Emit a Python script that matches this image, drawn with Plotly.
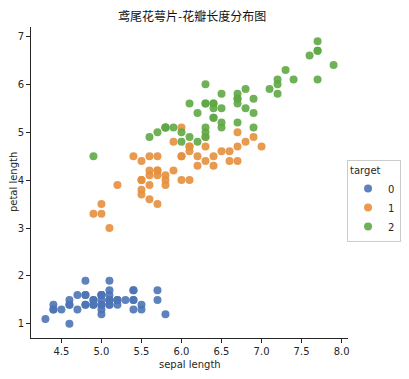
import plotly.graph_objects as go

# Iris data: sepal length and petal length per target class
sepal_0 = [5.1,4.9,4.7,4.6,5.0,5.4,4.6,5.0,4.4,4.9,5.4,4.8,4.8,4.3,5.8,5.7,5.4,5.1,5.7,5.1,
           5.4,5.1,4.6,5.1,4.8,5.0,5.0,5.2,5.2,4.7,4.8,5.4,5.2,5.5,4.9,5.0,5.5,4.9,4.4,5.1,
           5.0,4.5,4.4,5.0,5.1,4.8,5.1,4.6,5.3,5.0]
petal_0 = [1.4,1.4,1.3,1.5,1.4,1.7,1.4,1.5,1.4,1.5,1.5,1.6,1.4,1.1,1.2,1.5,1.3,1.4,1.7,1.5,
           1.7,1.5,1.0,1.7,1.9,1.6,1.6,1.5,1.4,1.6,1.6,1.5,1.5,1.4,1.5,1.2,1.3,1.4,1.3,1.5,
           1.3,1.3,1.3,1.6,1.9,1.4,1.6,1.4,1.5,1.4]
sepal_1 = [7.0,6.4,6.9,5.5,6.5,5.7,6.3,4.9,6.6,5.2,5.0,5.9,6.0,6.1,5.6,6.7,5.6,5.8,6.2,5.6,
           5.9,6.1,6.3,6.1,6.4,6.6,6.8,6.7,6.0,5.7,5.5,5.5,5.8,6.0,5.4,6.0,6.7,6.3,5.6,5.5,
           5.5,6.1,5.8,5.0,5.6,5.7,5.7,6.2,5.1,5.7]
petal_1 = [4.7,4.5,4.9,4.0,4.6,4.5,4.7,3.3,4.6,3.9,3.5,4.2,4.0,4.7,3.6,4.4,4.5,4.1,4.5,3.9,
           4.8,4.0,4.9,4.7,4.3,4.4,4.8,5.0,4.5,3.5,3.8,3.7,3.9,5.1,4.5,4.5,4.7,4.4,4.1,4.0,
           4.4,4.6,4.0,3.3,4.2,4.2,4.2,4.3,3.0,4.1]
sepal_2 = [6.3,5.8,7.1,6.3,6.5,7.6,4.9,7.3,6.7,7.2,6.5,6.4,6.8,5.7,5.8,6.4,6.5,7.7,7.7,6.0,
           6.9,5.6,7.7,6.3,6.7,7.2,6.2,6.1,6.4,7.2,7.4,7.9,6.4,6.3,6.1,7.7,6.3,6.4,6.0,6.9,
           6.7,6.9,5.8,6.8,6.7,6.7,6.3,6.5,6.2,5.9]
petal_2 = [6.0,5.1,5.9,5.6,5.8,6.6,4.5,6.3,5.8,6.1,5.1,5.3,5.5,5.0,5.1,5.3,5.5,6.7,6.9,5.0,
           5.7,4.9,6.7,4.9,5.7,6.0,4.8,4.9,5.6,5.8,6.1,6.4,5.6,5.1,5.6,6.1,5.6,5.5,4.8,5.4,
           5.6,5.1,5.1,5.9,5.7,5.2,5.0,5.2,5.4,5.1]

targets = ["0", "1", "2"]
sepals = [sepal_0, sepal_1, sepal_2]
petals = [petal_0, petal_1, petal_2]
colors = ["#4C74B5", "#E6903D", "#5FA845"]

font = "DejaVu Sans, sans-serif"
cjk_font = "Noto Sans CJK SC, SimHei, sans-serif"

fig = go.Figure()
for t, xs, ys, c in zip(targets, sepals, petals, colors):
    fig.add_trace(go.Scatter(
        x=xs, y=ys, mode="markers", name=t,
        marker=dict(color=c, size=8, opacity=0.9, line=dict(width=0)),
    ))

fig.update_layout(
    width=401, height=371,
    margin=dict(l=23, r=61, t=19, b=41, autoexpand=False),
    paper_bgcolor="white", plot_bgcolor="white",
    font=dict(family=font, size=10, color="#262626"),
    title=dict(text="鸢尾花萼片-花瓣长度分布图", x=0.459, xanchor="center",
               y=0.976, yanchor="middle",
               font=dict(family=cjk_font, size=12, color="#111111")),
    showlegend=True,
    legend=dict(
        title=dict(text="target", font=dict(size=10)),
        x=0.997, y=0.572, xanchor="left", yanchor="top",
        bordercolor="#cccccc", borderwidth=1, bgcolor="white",
        font=dict(size=10), itemwidth=30, tracegroupgap=0,
    ),
    annotations=[
        dict(text="sepal length", xref="paper", yref="paper", x=0.5, y=-0.085,
             xanchor="center", yanchor="middle", showarrow=False, font=dict(size=10)),
        dict(text="petal length", xref="paper", yref="paper", x=-0.055, y=0.5,
             xanchor="center", yanchor="middle", textangle=-90, showarrow=False,
             font=dict(size=10)),
    ],
)
fig.update_xaxes(
    range=[4.12, 8.08], dtick=0.5, tick0=4.5, tickformat=".1f", automargin=False,
    showgrid=False, zeroline=False, showline=True, linecolor="#262626", linewidth=1,
    ticks="outside", ticklen=4, tickcolor="#262626",
)
fig.update_yaxes(
    range=[0.705, 7.195], dtick=1, automargin=False,
    showgrid=False, zeroline=False, showline=True, linecolor="#262626", linewidth=1,
    ticks="outside", ticklen=4, tickcolor="#262626",
)

fig.write_html("out.html")
